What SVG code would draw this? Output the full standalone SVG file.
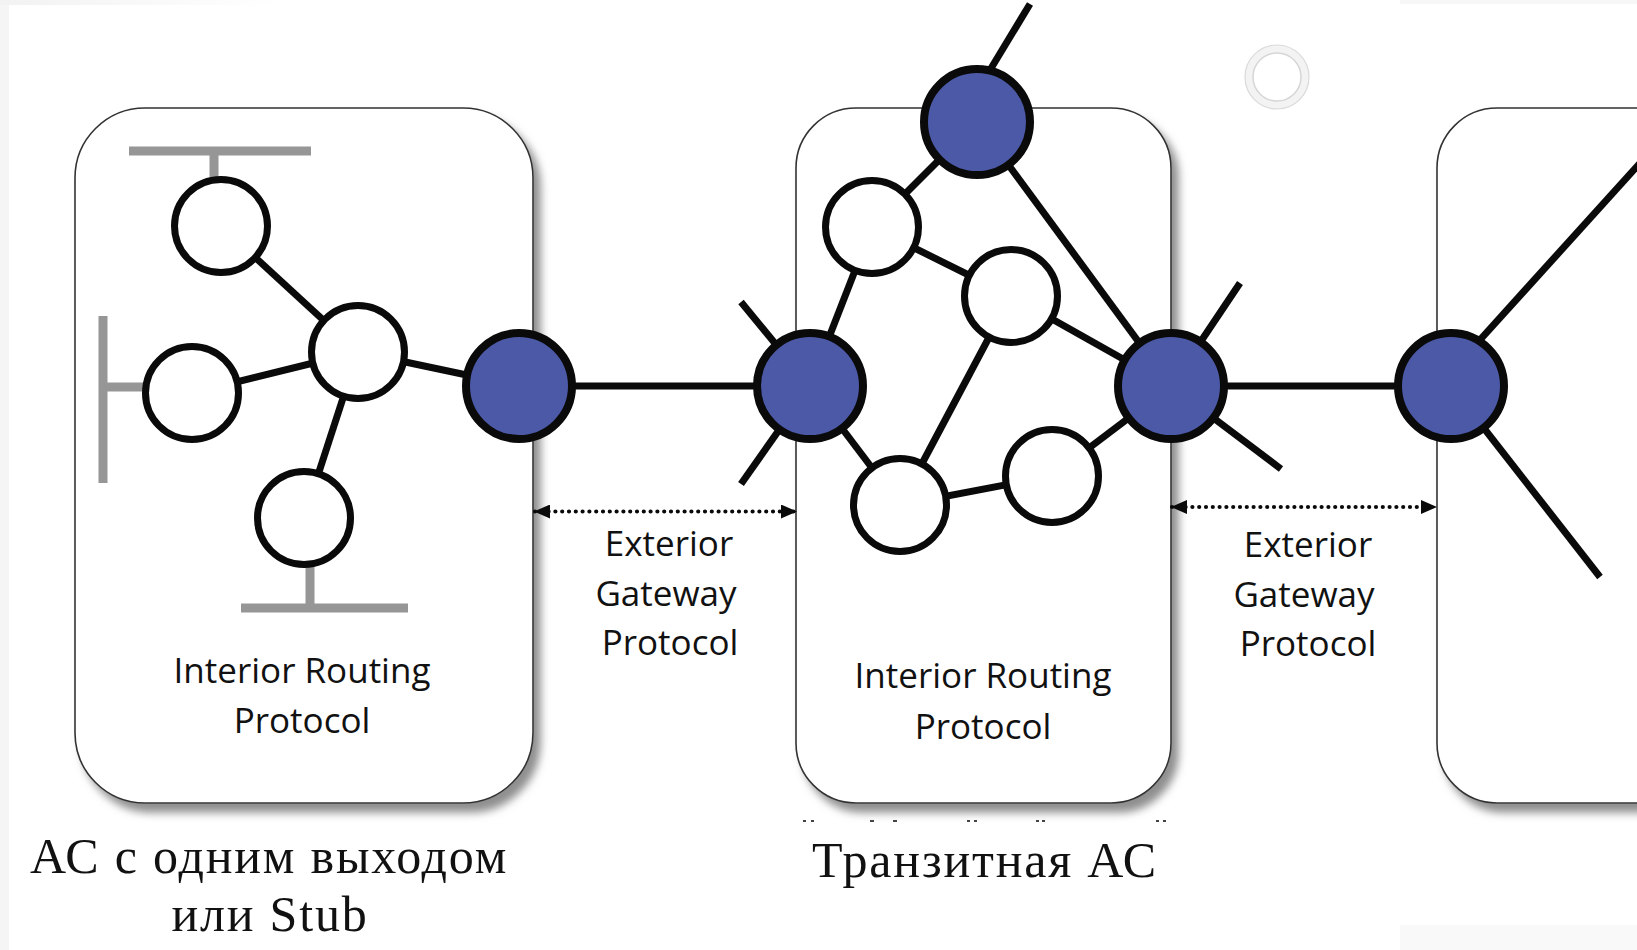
<svg xmlns="http://www.w3.org/2000/svg" width="1637" height="950" viewBox="0 0 1637 950">
<style>
.box{fill:#fff;stroke:#333;stroke-width:1.6;filter:url(#sh)}
.ln{stroke:#0a0a0a;stroke-width:7;fill:none}
.wn{fill:#fff;stroke:#0a0a0a;stroke-width:7}
.bn{fill:#4c59a7;stroke:#0a0a0a;stroke-width:8}
.gb{stroke:#969696;stroke-width:9;fill:none}
.dot{stroke:#0a0a0a;stroke-width:4.2;stroke-linecap:round;stroke-dasharray:0 6.8;fill:none}
.lbl{font-family:"Open Sans","Liberation Sans",sans-serif;font-size:35px;fill:#111;text-anchor:middle}
.cap{font-family:"Liberation Serif","DejaVu Serif",serif;font-size:50px;letter-spacing:1.8px;fill:#111;text-anchor:middle}
.mk{fill:#444}
</style>
<defs>
<filter id="sh" x="-10%" y="-10%" width="130%" height="130%">
<feDropShadow dx="7" dy="9" stdDeviation="4" flood-color="#7a7a7a" flood-opacity="0.85"/>
</filter>
<marker id="ah" viewBox="0 0 16 14" refX="15" refY="7" markerWidth="16" markerHeight="14" markerUnits="userSpaceOnUse" orient="auto-start-reverse">
<path d="M0,0 L16,7 L0,14 z" fill="#0a0a0a"/>
</marker>
<linearGradient id="tg" x1="0" x2="1" y1="0" y2="0">
<stop offset="0" stop-color="#f2f2f2"/><stop offset="1" stop-color="#ffffff"/>
</linearGradient>
</defs>
<rect width="1637" height="950" fill="#fff"/>
<rect x="0" y="0" width="9" height="950" fill="#f5f5f5"/>
<rect x="0" y="0" width="280" height="5" fill="url(#tg)"/>
<rect x="1400" y="0" width="237" height="4" fill="#f7f7f7"/>
<rect x="1400" y="925" width="237" height="25" fill="#f9f9f9"/>

<g id="as-stub-box"><rect class="box" x="75" y="108" width="458" height="695" rx="70" ry="70"/></g>
<g id="as-transit-box"><rect class="box" x="796" y="108" width="375" height="695" rx="60" ry="60"/></g>
<g id="as-right-box"><rect class="box" x="1437" y="108" width="320" height="695" rx="60" ry="60"/></g>

<g id="clip-marks">
<rect class="mk" x="803" y="820" width="3" height="2"/><rect class="mk" x="811" y="820" width="3" height="2"/>
<rect class="mk" x="870" y="820" width="4" height="2"/><rect class="mk" x="893" y="820" width="4" height="2"/>
<rect class="mk" x="967" y="820" width="3" height="2"/><rect class="mk" x="974" y="820" width="3" height="2"/>
<rect class="mk" x="1036" y="820" width="3" height="2"/><rect class="mk" x="1042" y="820" width="3" height="2"/>
<rect class="mk" x="1156" y="820" width="3" height="2"/><rect class="mk" x="1163" y="820" width="3" height="2"/>
</g>

<g id="ring"><circle cx="1277" cy="77" r="28" fill="none" stroke="#f3f3f3" stroke-width="8"/><circle cx="1277" cy="77" r="32" fill="none" stroke="#dadada" stroke-width="1.2"/><circle cx="1277" cy="77" r="24" fill="none" stroke="#d6d6d6" stroke-width="1.5"/></g>

<g id="lan-bars">
<path class="gb" d="M129,151 H311 M214,151 V180"/>
<path class="gb" d="M103,316 V483 M103,387 H145"/>
<path class="gb" d="M241,608 H408 M310,608 V565"/>
</g>

<g id="connectors">
<line class="ln" x1="221" y1="226" x2="358" y2="352"/>
<line class="ln" x1="192" y1="393" x2="358" y2="352"/>
<line class="ln" x1="358" y1="352" x2="304" y2="518"/>
<line class="ln" x1="358" y1="352" x2="519" y2="386"/>
<line class="ln" x1="519" y1="386" x2="810" y2="386"/>
<line class="ln" x1="1030" y1="4" x2="984" y2="80"/>
<line class="ln" x1="741" y1="302" x2="810" y2="386"/>
<line class="ln" x1="741" y1="484" x2="810" y2="386"/>
<line class="ln" x1="977" y1="122" x2="872" y2="227"/>
<line class="ln" x1="977" y1="122" x2="1171" y2="386"/>
<line class="ln" x1="872" y1="227" x2="810" y2="386"/>
<line class="ln" x1="872" y1="227" x2="1011" y2="296"/>
<line class="ln" x1="1011" y1="296" x2="1171" y2="386"/>
<line class="ln" x1="1011" y1="296" x2="900" y2="505"/>
<line class="ln" x1="810" y1="386" x2="900" y2="505"/>
<line class="ln" x1="900" y1="505" x2="1052" y2="476"/>
<line class="ln" x1="1052" y1="476" x2="1171" y2="386"/>
<line class="ln" x1="1171" y1="386" x2="1240" y2="283"/>
<line class="ln" x1="1171" y1="386" x2="1281" y2="469"/>
<line class="ln" x1="1171" y1="386" x2="1451" y2="386"/>
<line class="ln" x1="1460" y1="362" x2="1650" y2="152"/>
<line class="ln" x1="1451" y1="386" x2="1600" y2="577"/>
<line class="dot" x1="535" y1="511.5" x2="796" y2="511.5" marker-start="url(#ah)" marker-end="url(#ah)"/>
<line class="dot" x1="1172" y1="507" x2="1436" y2="507" marker-start="url(#ah)" marker-end="url(#ah)"/>
</g>

<g id="n-stub-top"><circle class="wn" cx="221" cy="226" r="46.5"/></g>
<g id="n-stub-center"><circle class="wn" cx="358" cy="352" r="46.5"/></g>
<g id="n-stub-left"><circle class="wn" cx="192" cy="393" r="46.5"/></g>
<g id="n-stub-bottom"><circle class="wn" cx="304" cy="518" r="46.5"/></g>
<g id="n-stub-border"><circle class="bn" cx="519" cy="386" r="53"/></g>
<g id="n-tr-left"><circle class="bn" cx="810" cy="386" r="53"/></g>
<g id="n-tr-top"><circle class="bn" cx="977" cy="122" r="53"/></g>
<g id="n-tr-a"><circle class="wn" cx="872" cy="227" r="46.5"/></g>
<g id="n-tr-b"><circle class="wn" cx="1011" cy="296" r="46.5"/></g>
<g id="n-tr-c"><circle class="wn" cx="900" cy="505" r="46.5"/></g>
<g id="n-tr-d"><circle class="wn" cx="1052" cy="476" r="46.5"/></g>
<g id="n-tr-right"><circle class="bn" cx="1171" cy="386" r="53"/></g>
<g id="n-far-right"><circle class="bn" cx="1451" cy="386" r="53"/></g>

<g id="labels">
<text class="lbl" x="302" y="683">Interior Routing</text>
<text class="lbl" x="302" y="733">Protocol</text>
<text class="lbl" x="983" y="688">Interior Routing</text>
<text class="lbl" x="983" y="739">Protocol</text>
<text class="lbl" x="669" y="556">Exterior</text>
<text class="lbl" x="666" y="606">Gateway</text>
<text class="lbl" x="670" y="655">Protocol</text>
<text class="lbl" x="1308" y="557">Exterior</text>
<text class="lbl" x="1304" y="607">Gateway</text>
<text class="lbl" x="1308" y="656">Protocol</text>
<text class="cap" x="269" y="873">АС с одним выходом</text>
<text class="cap" x="270" y="931">или Stub</text>
<text class="cap" x="985" y="877">Транзитная АС</text>
</g>
</svg>
